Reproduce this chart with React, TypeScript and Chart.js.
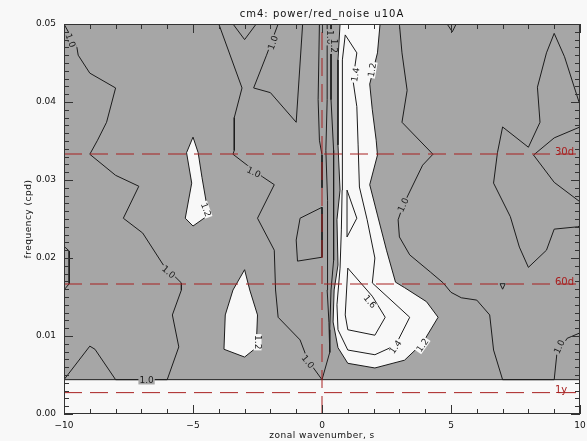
import React, { useEffect, useRef } from "react";
import { Chart, registerables } from "chart.js";
Chart.register(...registerables);

type P = [number, number];

// ---- axes ----
const X_MIN = -10;
const X_MAX = 10;
const Y_MIN = 0;
const Y_MAX = 0.05;
const lowestFrequency = 0.0044;
const xMajorTicks = [-10, -5, 0, 5, 10];
const xTickLabels = ["\u221210", "\u22125", "0", "5", "10"];
const yMajorTicks = [0, 0.01, 0.02, 0.03, 0.04, 0.05];
const yTickLabels = ["0.00", "0.01", "0.02", "0.03", "0.04", "0.05"];
const xMinorStep = 1;
const yMinorStep = 0.001;
const periodDays = [30, 60, 365];
const periodLabels = ["30d", "60d", "1y"];
const titleText = "cm4: power/red_noise u10A";
const xTitle = "zonal wavenumber, s";
const yTitle = "frequency (cpd)";

// ---- contour lines (wavenumber, frequency) ----
const c10West: P[] = [[-10, 0.05], [-9.5, 0.047], [-9.45, 0.046], [-9, 0.0437], [-8, 0.0418], [-8.35, 0.0374], [-8.7, 0.0351], [-9, 0.0333], [-8, 0.0306], [-7.1, 0.0292], [-7.7, 0.0251], [-6.95, 0.0232], [-6.15, 0.0191], [-5.45, 0.0168], [-5.45, 0.0159], [-5.8, 0.0127], [-5.55, 0.0086], [-6, 0.0044], [-8, 0.0044], [-8.8, 0.0083], [-9, 0.0087], [-10, 0.0044]];
const c10Mid: P[] = [[-4, 0.05], [-3.1, 0.0418], [-3.4, 0.038], [-3.4, 0.0338], [-3.45, 0.0333], [-2.9, 0.0319], [-2.3, 0.0304], [-1.85, 0.0294], [-2.5, 0.0251], [-1.85, 0.021], [-1.8, 0.0159], [-1.7, 0.0124], [-0.85, 0.0095], [-0.55, 0.0069], [0, 0.0044], [0.3, 0.0079], [0.27, 0.0117], [0.2, 0.0159], [0.23, 0.0204], [0.2, 0.0274], [0.15, 0.0338], [0.2, 0.0403], [0.2, 0.05]];
const c10TopV1: P[] = [[-3.45, 0.05], [-3, 0.048], [-2.55, 0.05]];
const c10TopV2: P[] = [[-1.7, 0.05], [-2.15, 0.046], [-2.65, 0.0418], [-2, 0.0412], [-1, 0.0374], [-0.75, 0.05]];
const cNearZero: P[] = [[-0.1, 0.05], [-0.15, 0.0403], [-0.1, 0.0351], [0, 0.0332], [0, 0.029]];
const cQuad: P[] = [[-0.85, 0.0251], [0, 0.0265], [0, 0.0201], [-0.95, 0.0196], [-1, 0.0223], [-0.85, 0.0251]];
const cInner: P[] = [[0.35, 0.05], [0.35, 0.0403], [0.45, 0.0338], [0.45, 0.0274], [0.45, 0.0197], [0.35, 0.0159], [0.3, 0.0108], [0.3, 0.0079]];
const c12Center: P[] = [[0.7, 0.05], [0.62, 0.0454], [0.62, 0.0345], [0.7, 0.0287], [0.58, 0.0249], [0.62, 0.0191], [0.47, 0.0159], [0.43, 0.0118], [0.62, 0.0085], [1, 0.0065], [2.05, 0.0059], [3.2, 0.0069], [3.9, 0.0091], [4.5, 0.0124], [4.05, 0.0144], [3.2, 0.0162], [2.85, 0.0169], [2.5, 0.021], [2.15, 0.0255], [1.85, 0.0294], [2.15, 0.0332], [2.1, 0.0351], [1.95, 0.039], [1.85, 0.0423], [2.15, 0.0463], [2.25, 0.05]];
const c14Center: P[] = [[0.9, 0.0486], [1.35, 0.0463], [1.2, 0.0428], [1.35, 0.0394], [1.4, 0.0345], [1.45, 0.0291], [1.75, 0.0249], [2.05, 0.02], [1.95, 0.0168], [3.4, 0.0124], [2.85, 0.0088], [2.05, 0.0076], [1, 0.0082], [0.62, 0.0108], [0.58, 0.014], [0.7, 0.0187], [0.75, 0.0236], [0.78, 0.0287], [0.78, 0.0345], [0.8, 0.0454], [0.9, 0.0486]];
const c16Low: P[] = [[1, 0.0187], [1.95, 0.0151], [2.45, 0.0124], [2.05, 0.0101], [1, 0.0108], [0.9, 0.0127], [1, 0.0187]];
const c16Small: P[] = [[0.97, 0.0287], [1.35, 0.0251], [0.97, 0.0227], [0.97, 0.0287]];
const c10East: P[] = [[3, 0.05], [3.1, 0.0463], [3.3, 0.0415], [3.1, 0.0374], [4.3, 0.0333], [3.9, 0.0319], [3.15, 0.0268], [2.95, 0.0249], [3, 0.0227], [3.4, 0.0204], [4.2, 0.0182], [4.7, 0.0168], [5, 0.0156], [5.4, 0.0149], [6, 0.0146], [6.5, 0.0127], [6.65, 0.0082], [7, 0.0044], [9, 0.0044], [9.1, 0.0076], [9.5, 0.0097], [10, 0.0104]];
const c10TopTri: P[] = [[4.85, 0.05], [5.05, 0.049], [5.2, 0.05]];
const c10EastLoop: P[] = [[10, 0.0396], [9.4, 0.0458], [9, 0.0488], [8.7, 0.0463], [8.35, 0.0419], [8.45, 0.0374], [8, 0.0342], [7, 0.0368], [6.8, 0.0335], [6.65, 0.0296], [7.3, 0.0253], [7.65, 0.0214], [8, 0.0188], [8.7, 0.021], [9, 0.0237], [9.9, 0.024], [10, 0.0241]];
const c10EastV: P[] = [[10, 0.0368], [9, 0.0354], [8.2, 0.0332], [9, 0.0297], [10, 0.0272]];
const cDot: P[] = [[6.9, 0.0167], [7.1, 0.0167], [7, 0.016], [6.9, 0.0167]];
const cWestEdge: P[] = [[-10, 0.0215], [-9.8, 0.0209], [-9.8, 0.0167], [-10, 0.0159]];
const c12West1: P[] = [[-5, 0.0355], [-4.8, 0.0335], [-4.65, 0.0303], [-4.4, 0.0255], [-5, 0.0241], [-5.3, 0.0251], [-5.05, 0.0296], [-5.25, 0.0335], [-5, 0.0355]];
const c12West2: P[] = [[-3, 0.0185], [-3.45, 0.0159], [-3.75, 0.0127], [-3.8, 0.0083], [-3, 0.0073], [-2.55, 0.0085], [-2.5, 0.0127], [-2.8, 0.0159], [-3, 0.0185]];

// ---- contour labels ----
const labelText = ["1.0", "1.0", "1.0", "1.0", "1.2", "1.2", "1.0", "1.0", "1.6", "1.4", "1.2", "1.0", "1.0", "1.4", "1.2", "1.0", "1.2"];
const labelX = [-9.75, -1.9, -2.65, -5.95, -4.5, -2.5, -6.8, -0.55, 1.85, 2.85, 3.9, 3.15, 9.2, 1.3, 1.95, 0.3, 0.45];
const labelY = [0.0479, 0.0476, 0.031, 0.0182, 0.0262, 0.0092, 0.0043, 0.0067, 0.0144, 0.0086, 0.0088, 0.0268, 0.0086, 0.0435, 0.0441, 0.0483, 0.0472];
const labelAngle = [70, -70, 25, 40, 70, 90, 0, 50, 50, -55, -55, -65, -65, -80, -80, 90, 90];
const labelOnWhite = [false, false, false, false, true, true, false, false, true, true, true, false, false, true, true, false, false];

const GRAY = "#a6a6a6";
const WHITE = "#f8f8f8";
const LINE = "#1c1c1c";
const RED = "#a82020";
const AXIS = "#333333";

const pts = (a: P[]) => a.map(([x, y]) => ({ x, y }));

export default function App() {
  const ref = useRef<HTMLCanvasElement | null>(null);
  useEffect(() => {
    const canvas = ref.current;
    if (!canvas) return;

    const base = { pointRadius: 0, borderWidth: 1, tension: 0, spanGaps: true };
    const lineSet = (a: P[]) => ({ ...base, data: pts(a), borderColor: LINE, fill: false, order: 1 });
    const whiteSet = (a: P[]) => ({ ...base, data: pts(a), borderColor: LINE, backgroundColor: WHITE, fill: "shape", order: 5 });

    const datasets: any[] = [
      {
        ...base,
        data: pts([[X_MIN, lowestFrequency], [X_MAX, lowestFrequency], [X_MAX, Y_MAX], [X_MIN, Y_MAX], [X_MIN, lowestFrequency]]),
        borderColor: "rgba(0,0,0,0)",
        backgroundColor: GRAY,
        fill: "shape",
        order: 10,
      },
      whiteSet(c12Center),
      whiteSet(c12West1),
      whiteSet(c12West2),
      lineSet(c10West),
      lineSet(c10Mid),
      lineSet(c10TopV1),
      lineSet(c10TopV2),
      lineSet(cNearZero),
      lineSet(cQuad),
      lineSet(cInner),
      lineSet(c14Center),
      lineSet(c16Low),
      lineSet(c16Small),
      lineSet(c10East),
      lineSet(c10TopTri),
      lineSet(c10EastLoop),
      lineSet(c10EastV),
      lineSet(cDot),
      lineSet(cWestEdge),
      lineSet([[X_MIN, lowestFrequency], [X_MAX, lowestFrequency]]),
    ];
    periodDays.forEach((d) => {
      datasets.push({ ...base, data: pts([[X_MIN, 1 / d], [X_MAX, 1 / d]]), borderColor: RED, borderDash: [18, 8], fill: false, order: 0 });
    });
    datasets.push({ ...base, data: pts([[0, Y_MIN], [0, Y_MAX]]), borderColor: RED, borderDash: [18, 8], fill: false, order: 0 });

    const idlPlugin = {
      id: "idlAxes",
      beforeDraw(chart: any) {
        const c = chart.ctx;
        c.save();
        c.fillStyle = WHITE;
        c.fillRect(0, 0, chart.width, chart.height);
        c.restore();
      },
      afterDatasetsDraw(chart: any) {
        const c = chart.ctx;
        const xs = chart.scales.x;
        const ys = chart.scales.y;
        c.save();
        c.font = '9px "DejaVu Sans"';
        c.textAlign = "center";
        c.textBaseline = "middle";
        labelText.forEach((t, i) => {
          const px = xs.getPixelForValue(labelX[i]);
          const py = ys.getPixelForValue(labelY[i]);
          c.save();
          c.translate(px, py);
          c.rotate((labelAngle[i] * Math.PI) / 180);
          const w = c.measureText(t).width;
          c.fillStyle = labelOnWhite[i] ? WHITE : GRAY;
          c.fillRect(-w / 2 - 1, -4, w + 2, 8);
          c.fillStyle = LINE;
          c.fillText(t, 0, 0.5);
          c.restore();
        });
        // period labels
        c.font = '10px "DejaVu Sans"';
        c.textAlign = "left";
        c.fillStyle = RED;
        periodDays.forEach((d, i) => {
          const py = ys.getPixelForValue(1 / d);
          c.fillText(periodLabels[i], chart.chartArea.right - 25, py - 2);
        });
        c.restore();
      },
      afterDraw(chart: any) {
        const c = chart.ctx;
        const xs = chart.scales.x;
        const ys = chart.scales.y;
        const { left, right, top, bottom } = chart.chartArea;
        c.save();
        c.strokeStyle = AXIS;
        c.lineWidth = 1;
        c.strokeRect(left + 0.5, top + 0.5, right - left - 1, bottom - top - 1);
        c.beginPath();
        const nx = Math.round((X_MAX - X_MIN) / xMinorStep);
        for (let k = 0; k <= nx; k++) {
          const v = X_MIN + k * xMinorStep;
          const major = xMajorTicks.some((m) => Math.abs(m - v) < 1e-9);
          const len = major ? 9 : 5;
          const px = Math.round(xs.getPixelForValue(v)) + 0.5;
          c.moveTo(px, bottom);
          c.lineTo(px, bottom - len);
          c.moveTo(px, top);
          c.lineTo(px, top + len);
        }
        const ny = Math.round((Y_MAX - Y_MIN) / yMinorStep);
        for (let k = 0; k <= ny; k++) {
          const v = Y_MIN + k * yMinorStep;
          const major = yMajorTicks.some((m) => Math.abs(m - v) < 1e-9);
          const len = major ? 9 : 5;
          const py = Math.round(ys.getPixelForValue(v)) + 0.5;
          c.moveTo(left, py);
          c.lineTo(left + len, py);
          c.moveTo(right, py);
          c.lineTo(right - len, py);
        }
        c.stroke();

        c.fillStyle = "#111";
        c.font = '9px "DejaVu Sans"';
        c.textBaseline = "middle";
        c.textAlign = "center";
        xMajorTicks.forEach((v, i) => {
          c.fillText(xTickLabels[i], xs.getPixelForValue(v), bottom + 12);
        });
        c.textAlign = "right";
        yMajorTicks.forEach((v, i) => {
          c.fillText(yTickLabels[i], left - 8, ys.getPixelForValue(v));
        });

        c.textAlign = "center";
        c.font = '10px "DejaVu Sans"';
        (c as any).letterSpacing = "1px";
        c.fillText(titleText, (left + right) / 2, 14);
        c.font = '9px "DejaVu Sans"';
        (c as any).letterSpacing = "0.5px";
        c.fillText(xTitle, (left + right) / 2, bottom + 22);
        c.save();
        c.translate(29, (top + bottom) / 2);
        c.rotate(-Math.PI / 2);
        c.fillText(yTitle, 0, 0);
        c.restore();
        c.restore();
      },
    };

    const chart = new Chart(canvas, {
      type: "line",
      data: { datasets },
      options: {
        animation: false,
        responsive: false,
        maintainAspectRatio: false,
        events: [],
        layout: { padding: { left: 64, right: 7, top: 24, bottom: 27 } },
        plugins: { legend: { display: false }, tooltip: { enabled: false }, title: { display: false } },
        scales: {
          x: { type: "linear", min: X_MIN, max: X_MAX, display: false },
          y: { type: "linear", min: Y_MIN, max: Y_MAX, display: false },
        },
      } as any,
      plugins: [idlPlugin],
    } as any);
    return () => chart.destroy();
  }, []);

  return (
    <div style={{ position: "absolute", left: 0, top: 0, width: 587, height: 441 }}>
      <canvas ref={ref} width={587} height={441} style={{ display: "block", width: 587, height: 441 }} />
    </div>
  );
}
